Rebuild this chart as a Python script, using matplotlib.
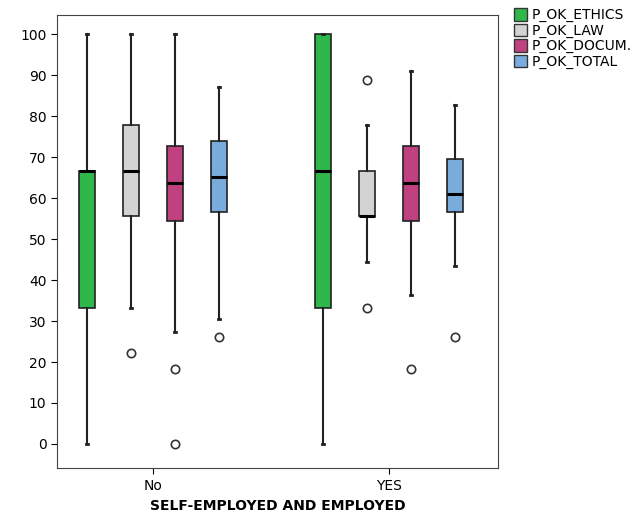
import matplotlib.pyplot as plt
from matplotlib.patches import Patch

# Data (percent scores)
groups = ['No', 'YES']
series = ['P_OK_ETHICS', 'P_OK_LAW', 'P_OK_DOCUM.', 'P_OK_TOTAL']
colors = ['#2fb74a', '#d3d3d3', '#c0417f', '#79acdc']

# [whislo, q1, med, q3, whishi]
no_stats = [
    [0.0, 33.3, 66.7, 66.7, 100.0],
    [33.3, 55.6, 66.7, 77.8, 100.0],
    [27.3, 54.5, 63.6, 72.7, 100.0],
    [30.4, 56.5, 65.2, 73.9, 87.0],
]
yes_stats = [
    [0.0, 33.3, 66.7, 100.0, 100.0],
    [44.4, 55.6, 55.6, 66.7, 77.8],
    [36.4, 54.5, 63.6, 72.7, 90.9],
    [43.5, 56.5, 60.9, 69.6, 82.6],
]
no_fliers = [[], [22.2], [18.2, 0.0], [26.1]]
yes_fliers = [[], [88.9, 33.3], [18.2], [26.1]]

offsets = [-0.28, -0.093, 0.093, 0.28]
width = 0.068

fig = plt.figure(figsize=(6.39, 5.15), dpi=100)
ax = fig.add_axes([0.089, 0.091, 0.69, 0.88])

for gi, (stats, fliers) in enumerate([(no_stats, no_fliers), (yes_stats, yes_fliers)]):
    for si, (s, f) in enumerate(zip(stats, fliers)):
        d = dict(whislo=s[0], q1=s[1], med=s[2], q3=s[3], whishi=s[4], fliers=f)
        ax.bxp([d], positions=[gi + offsets[si]], widths=width, capwidths=0.01,
               patch_artist=True, showfliers=True,
               boxprops=dict(facecolor=colors[si], edgecolor='#222222', linewidth=1.2),
               medianprops=dict(color='black', linewidth=2.2),
               whiskerprops=dict(color='#222222', linewidth=1.5),
               capprops=dict(color='#222222', linewidth=2),
               flierprops=dict(marker='o', markerfacecolor='none', markeredgecolor='#333333',
                               markersize=6, markeredgewidth=1.2))

ax.set_xlim(-0.407, 1.462)
ax.set_ylim(-5.9, 104.7)
ax.set_xticks([0, 1])
ax.set_xticklabels(groups, fontsize=10)
ax.set_yticks(range(0, 101, 10))
ax.tick_params(axis='y', labelsize=10, length=4)
ax.tick_params(axis='x', length=4)
for sp in ax.spines.values():
    sp.set_color('#444444')
ax.set_xlabel('SELF-EMPLOYED AND EMPLOYED', fontsize=10, fontweight='bold', labelpad=5)

handles = [Patch(facecolor=c, edgecolor='#333333', label=l) for c, l in zip(colors, series)]
fig.legend(handles=handles, loc='upper left', bbox_to_anchor=(0.795, 0.995), frameon=False,
           fontsize=10, handlelength=1.0, handleheight=1.0, handletextpad=0.3,
           labelspacing=0.1, borderaxespad=0)

fig.savefig('out.png', dpi=100)
